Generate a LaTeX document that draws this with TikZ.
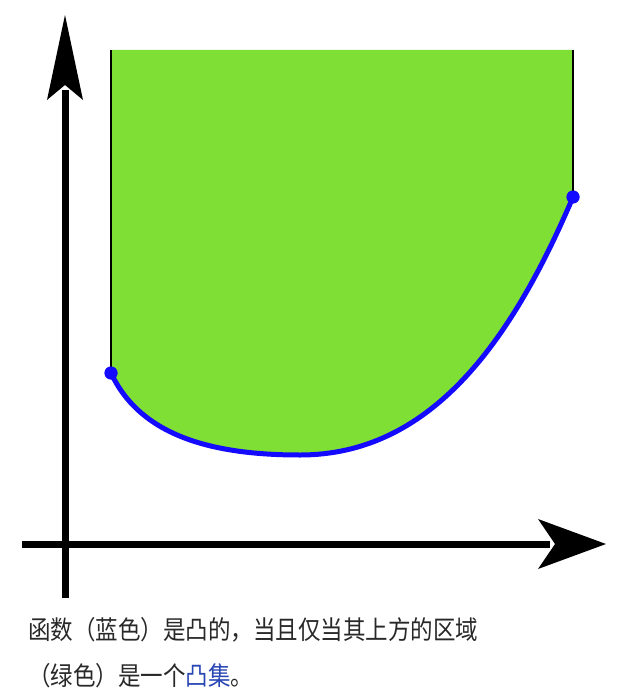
\documentclass[tikz,border=0pt]{standalone}
\usepackage{fontspec}
\newfontfamily\cjk{Noto Sans CJK SC}
\definecolor{fillgreen}{RGB}{127,223,52}
\definecolor{curveblue}{RGB}{20,10,255}
\definecolor{captext}{RGB}{40,40,40}
\definecolor{linkblue}{RGB}{40,70,180}
\tikzset{
  axisline/.style={line width=7pt, black},
  arrowhead/.style={fill=black, draw=none},
  edgeline/.style={line width=2.8pt, black},
  curveline/.style={line width=5pt, curveblue},
  enddot/.style={circle, fill=curveblue, minimum size=13pt, inner sep=0pt},
  caption/.style={anchor=base west, inner sep=0pt, text=captext, font=\cjk\fontsize{22.5}{27}\selectfont}
}
\begin{document}
\begin{tikzpicture}[x=1pt, y=-1pt]
\useasboundingbox (0,0) rectangle (642,692);
% region
\fill[fillgreen] (111,50) -- (111,373) .. controls (140,435) and (210,455) .. (300,455)
  .. controls (429,455) and (510,345) .. (573,197) -- (573,50) -- cycle;
% axes
\coordinate (yb) at (65,598);
\coordinate (yt) at (65,90);
\coordinate (xl) at (22,544);
\coordinate (xr) at (550,544);
\draw[axisline] (yb) -- (yt);
\draw[axisline] (xl) -- (xr);
\fill[arrowhead] (65,15) -- (83,100) -- (65,85) -- (47,100) -- cycle;
\fill[arrowhead] (606,544) -- (538,569) -- (555,544) -- (538,519) -- cycle;
% vertical edges
\coordinate (lt) at (111,50);
\coordinate (rt) at (573,50);
\node[enddot] (pl) at (111,373) {};
\node[enddot] (pr) at (573,197) {};
\draw[edgeline] (lt) -- (pl.center);
\draw[edgeline] (rt) -- (pr.center);
% curve
\draw[curveline] (pl.center) .. controls (140,435) and (210,455) .. (300,455)
  .. controls (429,455) and (510,345) .. (pr.center);
\node[enddot] at (pl.center) {};
\node[enddot] at (pr.center) {};
% caption
\node[caption] (cap1) at (28,639) {\scalebox{1}[1.15]{函数（蓝色）是凸的，当且仅当其上方的区域}};
\node[caption] (cap2) at (28,685) {\scalebox{1}[1.15]{（绿色）是一个\textcolor{linkblue}{凸集}。}};
\end{tikzpicture}
\end{document}
